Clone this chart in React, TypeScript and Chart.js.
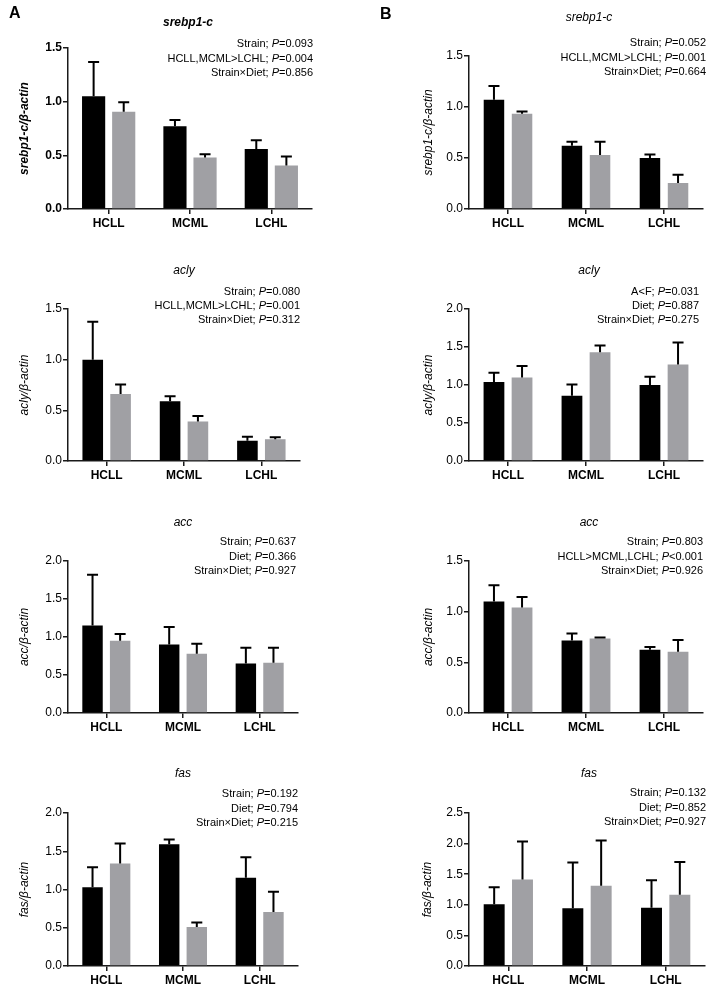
import React, { useEffect, useRef } from 'react';
import { Chart, registerables } from 'chart.js';

Chart.register(...registerables);

const FONT = '"Liberation Sans", Arial, Helvetica, sans-serif';
Chart.defaults.font.family = FONT;
Chart.defaults.color = '#000';

const BLACK = '#000000';
const GRAY = '#a0a0a4';
const AXIS = '#1a1a1a';

// ---------- data ----------
const categories = ['HCLL', 'MCML', 'LCHL'];

const ticks15 = [0, 0.5, 1.0, 1.5];
const ticks20 = [0, 0.5, 1.0, 1.5, 2.0];
const ticks25 = [0, 0.5, 1.0, 1.5, 2.0, 2.5];

// Panel A
const srebpA_black = [1.05, 0.77, 0.56];
const srebpA_blackErr = [0.32, 0.06, 0.08];
const srebpA_gray = [0.905, 0.48, 0.405];
const srebpA_grayErr = [0.09, 0.03, 0.085];

const aclyA_black = [1.0, 0.59, 0.2];
const aclyA_blackErr = [0.375, 0.05, 0.04];
const aclyA_gray = [0.66, 0.39, 0.215];
const aclyA_grayErr = [0.095, 0.055, 0.02];

const accA_black = [1.15, 0.9, 0.65];
const accA_blackErr = [0.67, 0.23, 0.21];
const accA_gray = [0.95, 0.78, 0.66];
const accA_grayErr = [0.09, 0.13, 0.2];

const fasA_black = [1.03, 1.59, 1.155];
const fasA_blackErr = [0.26, 0.065, 0.265];
const fasA_gray = [1.34, 0.51, 0.705];
const fasA_grayErr = [0.26, 0.06, 0.265];

// Panel B
const srebpB_black = [1.07, 0.62, 0.5];
const srebpB_blackErr = [0.135, 0.04, 0.035];
const srebpB_gray = [0.935, 0.53, 0.255];
const srebpB_grayErr = [0.02, 0.13, 0.08];

const aclyB_black = [1.04, 0.86, 1.0];
const aclyB_blackErr = [0.12, 0.145, 0.11];
const aclyB_gray = [1.1, 1.43, 1.27];
const aclyB_grayErr = [0.15, 0.09, 0.29];

const accB_black = [1.1, 0.715, 0.625];
const accB_blackErr = [0.16, 0.07, 0.027];
const accB_gray = [1.04, 0.735, 0.605];
const accB_grayErr = [0.105, 0.01, 0.115];

const fasB_black = [1.01, 0.945, 0.95];
const fasB_blackErr = [0.275, 0.745, 0.45];
const fasB_gray = [1.415, 1.31, 1.165];
const fasB_grayErr = [0.62, 0.74, 0.535];

// Stats text
const srebpA_notes = ['Strain; P=0.093', 'HCLL,MCML>LCHL; P=0.004', 'Strain×Diet; P=0.856'];
const aclyA_notes = ['Strain; P=0.080', 'HCLL,MCML>LCHL; P=0.001', 'Strain×Diet; P=0.312'];
const accA_notes = ['Strain; P=0.637', 'Diet; P=0.366', 'Strain×Diet; P=0.927'];
const fasA_notes = ['Strain; P=0.192', 'Diet; P=0.794', 'Strain×Diet; P=0.215'];
const srebpB_notes = ['Strain; P=0.052', 'HCLL,MCML>LCHL; P=0.001', 'Strain×Diet; P=0.664'];
const aclyB_notes = ['A<F; P=0.031', 'Diet; P=0.887', 'Strain×Diet; P=0.275'];
const accB_notes = ['Strain; P=0.803', 'HCLL>MCML,LCHL; P<0.001', 'Strain×Diet; P=0.926'];
const fasB_notes = ['Strain; P=0.132', 'Diet; P=0.852', 'Strain×Diet; P=0.927'];

// ---------- layout ----------
type PanelDef = {
  key: string;
  x0: number; y0: number; w: number; h: number;
  area: { l: number; r: number; t: number; b: number };
  bold: boolean;
  title: string; titleX: number; titleY: number;
  yTitle: string; yTitleX: number;
  notes: string[]; notesRight: number; notesY: number[];
  letter?: string; letterX?: number; letterY?: number;
  black: number[]; blackErr: number[]; gray: number[]; grayErr: number[];
  ticks: number[];
  catPct: number; barPct: number;
};

const PANELS: PanelDef[] = [
  {
    key: 'A1', x0: 0, y0: 0, w: 354, h: 240,
    area: { l: 68, r: 312, t: 48, b: 209 }, bold: true,
    title: 'srebp1-c', titleX: 188, titleY: 23,
    yTitle: 'srebp1-c/β-actin', yTitleX: 25,
    notes: srebpA_notes, notesRight: 313, notesY: [44, 59, 73],
    letter: 'A', letterX: 9, letterY: 14,
    black: srebpA_black, blackErr: srebpA_blackErr, gray: srebpA_gray, grayErr: srebpA_grayErr,
    ticks: ticks15, catPct: 0.74, barPct: 0.77,
  },
  {
    key: 'B1', x0: 354, y0: 0, w: 355, h: 240,
    area: { l: 469, r: 703, t: 56, b: 209 }, bold: false,
    title: 'srebp1-c', titleX: 589, titleY: 18,
    yTitle: 'srebp1-c/β-actin', yTitleX: 429,
    notes: srebpB_notes, notesRight: 706, notesY: [43, 58, 72],
    letter: 'B', letterX: 380, letterY: 15,
    black: srebpB_black, blackErr: srebpB_blackErr, gray: srebpB_gray, grayErr: srebpB_grayErr,
    ticks: ticks15, catPct: 0.72, barPct: 0.73,
  },
  {
    key: 'A2', x0: 0, y0: 240, w: 354, h: 240,
    area: { l: 68, r: 300, t: 309, b: 461 }, bold: false,
    title: 'acly', titleX: 184, titleY: 271,
    yTitle: 'acly/β-actin', yTitleX: 25,
    notes: aclyA_notes, notesRight: 300, notesY: [292, 306, 320],
    black: aclyA_black, blackErr: aclyA_blackErr, gray: aclyA_gray, grayErr: aclyA_grayErr,
    ticks: ticks15, catPct: 0.72, barPct: 0.74,
  },
  {
    key: 'B2', x0: 354, y0: 240, w: 355, h: 240,
    area: { l: 469, r: 703, t: 309, b: 461 }, bold: false,
    title: 'acly', titleX: 589, titleY: 271,
    yTitle: 'acly/β-actin', yTitleX: 429,
    notes: aclyB_notes, notesRight: 699, notesY: [292, 306, 320],
    black: aclyB_black, blackErr: aclyB_blackErr, gray: aclyB_gray, grayErr: aclyB_grayErr,
    ticks: ticks20, catPct: 0.72, barPct: 0.74,
  },
  {
    key: 'A3', x0: 0, y0: 480, w: 354, h: 262,
    area: { l: 68, r: 298, t: 561, b: 713 }, bold: false,
    title: 'acc', titleX: 183, titleY: 523,
    yTitle: 'acc/β-actin', yTitleX: 25,
    notes: accA_notes, notesRight: 296, notesY: [542, 557, 571],
    black: accA_black, blackErr: accA_blackErr, gray: accA_gray, grayErr: accA_grayErr,
    ticks: ticks20, catPct: 0.72, barPct: 0.74,
  },
  {
    key: 'B3', x0: 354, y0: 480, w: 355, h: 262,
    area: { l: 469, r: 703, t: 561, b: 713 }, bold: false,
    title: 'acc', titleX: 589, titleY: 523,
    yTitle: 'acc/β-actin', yTitleX: 429,
    notes: accB_notes, notesRight: 703, notesY: [542, 557, 571],
    black: accB_black, blackErr: accB_blackErr, gray: accB_gray, grayErr: accB_grayErr,
    ticks: ticks15, catPct: 0.72, barPct: 0.74,
  },
  {
    key: 'A4', x0: 0, y0: 742, w: 354, h: 244,
    area: { l: 68, r: 298, t: 813, b: 966 }, bold: false,
    title: 'fas', titleX: 183, titleY: 774,
    yTitle: 'fas/β-actin', yTitleX: 25,
    notes: fasA_notes, notesRight: 298, notesY: [794, 809, 823],
    black: fasA_black, blackErr: fasA_blackErr, gray: fasA_gray, grayErr: fasA_grayErr,
    ticks: ticks20, catPct: 0.72, barPct: 0.74,
  },
  {
    key: 'B4', x0: 354, y0: 742, w: 355, h: 244,
    area: { l: 469, r: 705, t: 813, b: 966 }, bold: false,
    title: 'fas', titleX: 589, titleY: 774,
    yTitle: 'fas/β-actin', yTitleX: 428,
    notes: fasB_notes, notesRight: 706, notesY: [793, 808, 822],
    black: fasB_black, blackErr: fasB_blackErr, gray: fasB_gray, grayErr: fasB_grayErr,
    ticks: ticks25, catPct: 0.72, barPct: 0.74,
  },
];

// ---------- plugins ----------
const errorBarPlugin = {
  id: 'errorBars',
  afterDatasetsDraw(chart: any) {
    const { ctx } = chart;
    const yScale = chart.scales.y;
    chart.data.datasets.forEach((ds: any, i: number) => {
      const meta = chart.getDatasetMeta(i);
      meta.data.forEach((bar: any, j: number) => {
        const v = ds.data[j];
        const e = ds.err ? ds.err[j] : 0;
        if (!e) return;
        const top = yScale.getPixelForValue(v + e);
        const x = bar.x;
        ctx.save();
        ctx.strokeStyle = '#000';
        ctx.lineWidth = 2;
        ctx.lineCap = 'butt';
        ctx.beginPath();
        ctx.moveTo(x, bar.y);
        ctx.lineTo(x, top);
        ctx.moveTo(x - 5.5, top);
        ctx.lineTo(x + 5.5, top);
        ctx.stroke();
        ctx.restore();
      });
    });
  },
};

const decorPlugin = {
  id: 'panelDecor',
  afterDraw(chart: any, _args: any, opts: any) {
    const ctx = chart.ctx;
    const ox = opts.x0;
    const oy = opts.y0;
    ctx.save();
    ctx.fillStyle = '#000';
    ctx.textBaseline = 'middle';

    // gene title
    ctx.textAlign = 'center';
    ctx.font = `italic ${opts.bold ? 'bold ' : ''}12px ${FONT}`;
    ctx.fillText(opts.title, opts.titleX - ox, opts.titleY - oy);

    // stats notes, right aligned, italic P
    ctx.textAlign = 'left';
    const normal = `11px ${FONT}`;
    const italic = `italic 11px ${FONT}`;
    (opts.notes as string[]).forEach((line, k) => {
      const idx = line.lastIndexOf('P');
      const parts: [string, string][] = [
        [line.slice(0, idx), normal],
        ['P', italic],
        [line.slice(idx + 1), normal],
      ];
      let total = 0;
      const widths = parts.map(([t, f]) => {
        ctx.font = f;
        const wv = ctx.measureText(t).width;
        total += wv;
        return wv;
      });
      let x = opts.notesRight - ox - total;
      const y = opts.notesY[k] - oy;
      parts.forEach(([t, f], n) => {
        ctx.font = f;
        ctx.fillText(t, x, y);
        x += widths[n];
      });
    });

    // panel letter
    if (opts.letter) {
      ctx.font = `bold 16px ${FONT}`;
      ctx.textAlign = 'left';
      ctx.fillText(opts.letter, opts.letterX - ox, opts.letterY - oy);
    }
    ctx.restore();
  },
};

function makeConfig(p: PanelDef): any {
  const weight = p.bold ? 'bold' : 'normal';
  return {
    type: 'bar',
    data: {
      labels: categories,
      datasets: [
        {
          label: 'black',
          data: p.black,
          err: p.blackErr,
          backgroundColor: BLACK,
          borderWidth: 0,
          categoryPercentage: p.catPct,
          barPercentage: p.barPct,
        },
        {
          label: 'gray',
          data: p.gray,
          err: p.grayErr,
          backgroundColor: GRAY,
          borderWidth: 0,
          categoryPercentage: p.catPct,
          barPercentage: p.barPct,
        },
      ],
    },
    options: {
      responsive: false,
      maintainAspectRatio: false,
      animation: false,
      events: [],
      layout: {
        padding: {
          left: 0,
          top: p.area.t - p.y0,
          right: p.x0 + p.w - p.area.r,
          bottom: 0,
        },
      },
      plugins: {
        legend: { display: false },
        tooltip: { enabled: false },
        title: { display: false },
        panelDecor: {
          x0: p.x0, y0: p.y0,
          bold: p.bold,
          title: p.title, titleX: p.titleX, titleY: p.titleY,
          notes: p.notes, notesRight: p.notesRight, notesY: p.notesY,
          letter: p.letter, letterX: p.letterX, letterY: p.letterY,
        },
      },
      scales: {
        x: {
          type: 'category',
          offset: true,
          grid: {
            display: true,
            drawOnChartArea: false,
            drawTicks: true,
            tickLength: 5,
            offset: false,
            color: AXIS,
            lineWidth: 1.5,
          },
          border: { display: true, color: AXIS, width: 1.5 },
          ticks: {
            color: '#000',
            font: { size: 12, weight: 'bold', family: FONT },
            padding: 2,
            maxRotation: 0,
            autoSkip: false,
          },
          afterFit: (s: any) => {
            s.height = p.y0 + p.h - p.area.b;
          },
        },
        y: {
          type: 'linear',
          min: 0,
          max: p.ticks[p.ticks.length - 1],
          grid: {
            display: true,
            drawOnChartArea: false,
            drawTicks: true,
            tickLength: 5,
            color: AXIS,
            lineWidth: 1.5,
          },
          border: { display: true, color: AXIS, width: 1.5 },
          ticks: {
            color: '#000',
            font: { size: 12, weight, family: FONT },
            padding: 1,
            callback: (v: any) => Number(v).toFixed(1),
          },
          afterBuildTicks: (s: any) => {
            s.ticks = p.ticks.map((v) => ({ value: v }));
          },
          afterFit: (s: any) => {
            s.width = p.area.l - p.x0;
          },
          title: {
            display: true,
            text: p.yTitle,
            color: '#000',
            font: { size: 12, style: 'italic', weight, family: FONT, lineHeight: 1.2 },
            padding: { top: p.yTitleX - p.x0 - 7.2, bottom: 0 },
          },
        },
      },
    },
    plugins: [errorBarPlugin, decorPlugin],
  };
}

function Panel({ p }: { p: PanelDef }) {
  const ref = useRef<HTMLCanvasElement>(null);
  useEffect(() => {
    if (!ref.current) return;
    const chart = new Chart(ref.current, makeConfig(p));
    return () => chart.destroy();
  }, [p]);
  return (
    <canvas
      ref={ref}
      width={p.w}
      height={p.h}
      style={{ position: 'absolute', left: p.x0, top: p.y0, width: p.w, height: p.h }}
    />
  );
}

export default function App() {
  return (
    <div
      style={{
        position: 'absolute',
        left: 0,
        top: 0,
        width: 709,
        height: 986,
        background: '#ffffff',
        overflow: 'hidden',
      }}
    >
      {PANELS.map((p) => (
        <Panel key={p.key} p={p} />
      ))}
    </div>
  );
}
